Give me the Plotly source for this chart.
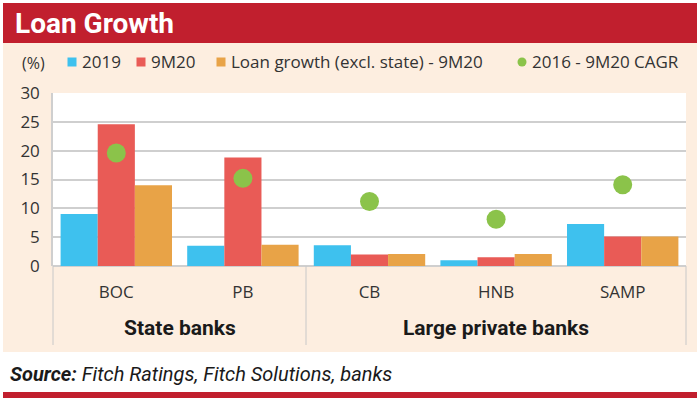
import plotly.graph_objects as go

banks = ["BOC", "PB", "CB", "HNB", "SAMP"]
groups = ["State banks", "Large private banks"]
growth_2019 = [9.0, 3.5, 3.6, 1.0, 7.3]
growth_9m20 = [24.6, 18.8, 2.0, 1.5, 5.1]
growth_excl_state = [14.0, 3.7, 2.1, 2.1, 5.1]
cagr_2016_9m20 = [19.6, 15.2, 11.2, 8.1, 14.1]
series_names = ["2019", "9M20", "Loan growth (excl. state) - 9M20", "2016 - 9M20 CAGR"]
y_ticks = [0, 5, 10, 15, 20, 25, 30]

BLUE = "#3EC1EE"
RED = "#E95B56"
ORANGE = "#E8A347"
GREEN = "#8BC34A"
HEAD = "#C11F2E"
PEACH = "#FDEEE0"
COND = "Roboto"

W, H = 700, 400
L, R, T, B = 53, 686, 93, 266
pw, ph = R - L, B - T


def px(x):
    return (x - L) / pw


def py(y):
    return (B - y) / ph


fig = go.Figure()
for name, vals, col in zip(series_names[:3], [growth_2019, growth_9m20, growth_excl_state], [BLUE, RED, ORANGE]):
    fig.add_trace(go.Bar(x=banks, y=vals, name=name, marker=dict(color=col, line=dict(width=0)),
                         showlegend=False))
fig.add_trace(go.Scatter(x=banks, y=cagr_2016_9m20, name=series_names[3], mode="markers",
                         marker=dict(color=GREEN, size=19), showlegend=False))

shapes = []
shapes.append(dict(type="rect", xref="paper", yref="paper", x0=px(3), x1=px(697), y0=py(352), y1=py(43),
                   fillcolor=PEACH, line=dict(width=0), layer="below"))
shapes.append(dict(type="rect", xref="paper", yref="paper", x0=0, x1=1, y0=0, y1=1,
                   fillcolor="white", line=dict(width=0), layer="below"))
shapes.append(dict(type="rect", xref="paper", yref="paper", x0=px(3), x1=px(697), y0=py(43), y1=py(3),
                   fillcolor=HEAD, line=dict(width=0), layer="below"))
shapes.append(dict(type="rect", xref="paper", yref="paper", x0=px(3), x1=px(697), y0=py(398), y1=py(392),
                   fillcolor=HEAD, line=dict(width=0), layer="below"))
for sx in [L, 306, R]:
    shapes.append(dict(type="line", xref="paper", yref="paper", x0=px(sx), x1=px(sx), y0=0, y1=py(345),
                       line=dict(color="#C8C8C8", width=1)))

leg_items = [(72, BLUE, "rect"), (141, RED, "rect"), (221, ORANGE, "rect"), (522, GREEN, "circle")]
for cx, col, kind in leg_items:
    shapes.append(dict(type=kind, xref="paper", yref="paper", x0=px(cx - 4.5), x1=px(cx + 4.5),
                       y0=py(66.5), y1=py(57.5), fillcolor=col, line=dict(width=0)))

ann = []
ann.append(dict(text="<b>Loan Growth</b>", xref="paper", yref="paper", x=px(13), y=py(23),
                xanchor="left", yanchor="middle", showarrow=False,
                font=dict(family=COND, size=28, color="white")))
ann.append(dict(text="(%)", xref="paper", yref="paper", x=px(20), y=py(63), xanchor="left", yanchor="middle",
                showarrow=False, font=dict(family="Open Sans", size=16, color="#333333")))
leg_text_x = [80, 149, 229, 530]
for tx, name in zip(leg_text_x, series_names):
    ann.append(dict(text=name, xref="paper", yref="paper", x=px(tx), y=py(62), xanchor="left",
                    yanchor="middle", showarrow=False, font=dict(family="Open Sans", size=17, color="#333333")))
for gx, g in zip([180, 496], groups):
    ann.append(dict(text="<b>" + g + "</b>", xref="paper", yref="paper", x=px(gx), y=py(328),
                    xanchor="center", yanchor="middle", showarrow=False,
                    font=dict(family=COND, size=21, color="#1a1a1a")))
ann.append(dict(text="<b><i>Source:</i></b><i> Fitch Ratings, Fitch Solutions, banks</i>", xref="paper",
                yref="paper", x=px(8), y=py(374), xanchor="left", yanchor="middle", showarrow=False,
                font=dict(family=COND, size=20, color="#1a1a1a")))

fig.update_layout(
    width=W, height=H,
    margin=dict(l=L, r=W - R, t=T, b=H - B, pad=0),
    paper_bgcolor="white", plot_bgcolor="white",
    barmode="group", bargap=0.12, bargroupgap=0,
    shapes=shapes, annotations=ann, showlegend=False,
    xaxis=dict(type="category", showgrid=False, ticks="", showline=False,
               tickfont=dict(family="Open Sans", size=17, color="#333333"), ticklabelstandoff=14),
    yaxis=dict(range=[0, 30], tickvals=y_ticks, showgrid=True, gridcolor="#CFCFCF", gridwidth=1.5,
               zeroline=True, zerolinecolor="#CFCFCF", zerolinewidth=1.5,
               showline=True, linecolor="#CFCFCF", linewidth=1.5, ticks="",
               tickfont=dict(family="Open Sans", size=17, color="#333333"), ticklabelstandoff=8),
)

fig.write_html("out.html", config={"displayModeBar": False},
               post_script="document.body.style.margin='0px';")
